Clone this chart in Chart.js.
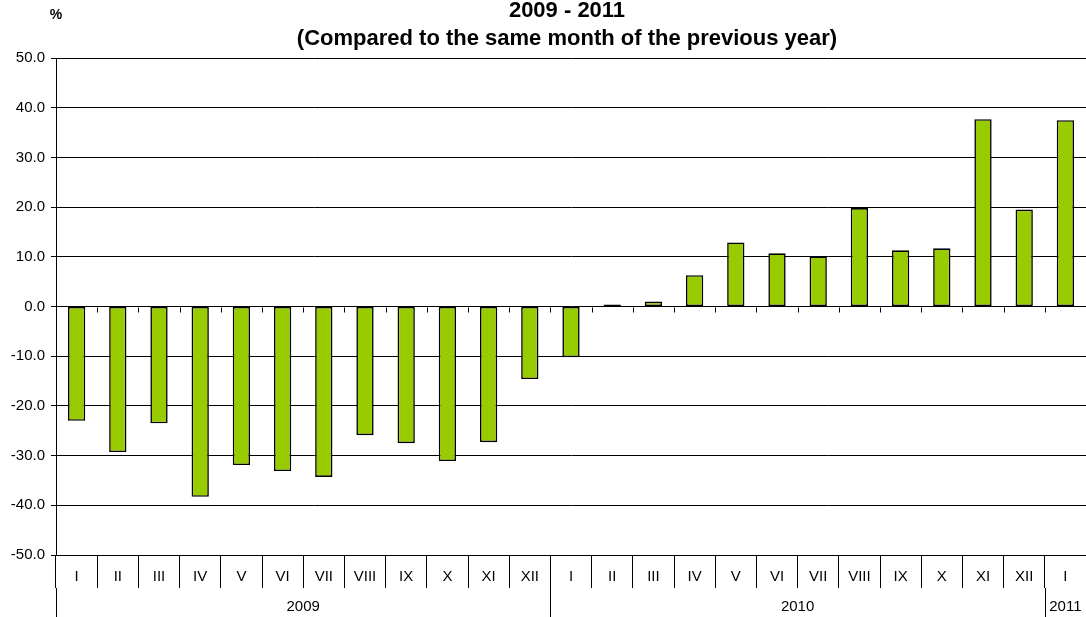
<!DOCTYPE html>
<html>
<head>
<meta charset="utf-8">
<script src="https://cdn.jsdelivr.net/npm/chart.js@4"></script>
<style>
  html, body { margin: 0; padding: 0; background: #fff; }
  #wrap { width: 1086px; height: 617px; position: relative; }
</style>
</head>
<body>
<div id="wrap"><canvas id="chart"></canvas></div>
<script>
// month labels, one per bar
const months = ['I','II','III','IV','V','VI','VII','VIII','IX','X','XI','XII',
                'I','II','III','IV','V','VI','VII','VIII','IX','X','XI','XII','I'];
// year row: name and how many months it covers
const yearNames = ['2009', '2010', '2011'];
const yearSpans = [12, 12, 1];
// change vs same month of previous year, %
const changes = [-23.0, -29.3, -23.5, -38.3, -31.9, -33.1, -34.3, -25.9, -27.5, -31.1, -27.3, -14.6,
                 -10.2, 0.4, 1.0, 6.3, 12.9, 10.7, 10.1, 19.8, 11.3, 11.7, 37.7, 19.5, 37.5];
const titleLines = ['2009 - 2011', '(Compared to the same month of the previous year)'];
const unitLabel = '%';

const FONT = "'Liberation Sans', Arial, sans-serif";

// titles, % label, zero-line ticks and the year row under the month labels
const extras = {
    id: 'extras',
    afterDraw(chart) {
        const ctx = chart.ctx;
        const x = chart.scales.x, y = chart.scales.y;
        const area = chart.chartArea;
        ctx.save();
        ctx.fillStyle = '#000';
        ctx.textAlign = 'center';
        ctx.textBaseline = 'alphabetic';
        ctx.font = 'bold 22px ' + FONT;
        const cx = (area.left + area.right) / 2 - 4;
        ctx.fillText(titleLines[0], cx, 17);
        ctx.fillText(titleLines[1], cx, 45);
        ctx.textBaseline = 'middle';
        ctx.font = 'bold 14px ' + FONT;
        ctx.fillText(unitLabel, 56, 15);

        // small ticks under the zero line at category boundaries
        const half = (x.getPixelForValue(1) - x.getPixelForValue(0)) / 2;
        const y0 = Math.round(y.getPixelForValue(0)) + 0.5;
        ctx.strokeStyle = '#000';
        ctx.lineWidth = 1;
        ctx.beginPath();
        for (let i = 0; i <= months.length; i++) {
            const px = Math.round(x.getPixelForValue(i) - half) + 0.5;
            ctx.moveTo(px, y0);
            ctx.lineTo(px, y0 + 5);
        }
        ctx.stroke();

        // year groups
        ctx.font = '15px ' + FONT;
        let start = 0;
        ctx.beginPath();
        yearNames.forEach((name, k) => {
            const end = start + yearSpans[k];
            const left = x.getPixelForValue(start) - half;
            const right = x.getPixelForValue(end - 1) + half;
            const lx = Math.round(left) + 0.5;
            ctx.moveTo(lx, area.bottom + 33);
            ctx.lineTo(lx, 617);
            ctx.fillText(name, (left + right) / 2, 607);
            start = end;
        });
        ctx.stroke();
        ctx.restore();
    }
};

new Chart(document.getElementById('chart'), {
    type: 'bar',
    data: {
        labels: months,
        datasets: [{
            data: changes,
            backgroundColor: '#99CC00',
            borderColor: '#000',
            borderWidth: 1.6,
            borderSkipped: false,
            barPercentage: 0.42,
            categoryPercentage: 1
        }]
    },
    options: {
        responsive: true,
        maintainAspectRatio: false,
        animation: false,
        layout: { padding: { top: 58, left: 0, right: 0, bottom: 0 } },
        plugins: { legend: { display: false }, title: { display: false }, tooltip: { enabled: false } },
        scales: {
            x: {
                grid: { offset: true, drawOnChartArea: false, drawTicks: true, tickLength: 33, color: '#000' },
                border: { display: true, color: '#000' },
                ticks: { color: '#000', font: { family: FONT, size: 15 }, padding: -20, maxRotation: 0, autoSkip: false },
                afterFit(scale) { scale.height = 62; }
            },
            y: {
                min: -50,
                max: 50,
                grid: { color: '#000', tickLength: 5 },
                border: { display: true, color: '#000' },
                ticks: {
                    stepSize: 10,
                    color: '#000',
                    padding: 6,
                    font: { family: FONT, size: 15 },
                    callback: v => v.toFixed(1)
                },
                afterFit(scale) { scale.width = 56; }
            }
        }
    },
    plugins: [extras]
});
</script>
</body>
</html>
